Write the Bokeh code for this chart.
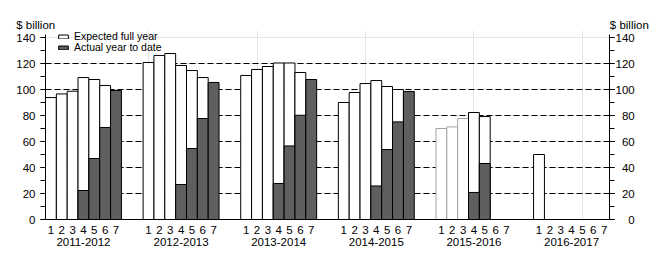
from bokeh.plotting import figure
from bokeh.layouts import column
from bokeh.models import (Range1d, LinearAxis, FixedTicker, SingleIntervalTicker,
                          Legend, LegendItem, ColumnDataSource, Grid)
from bokeh.core.properties import value
from bokeh.embed import file_html
from bokeh.resources import INLINE

years = ["2011-2012", "2012-2013", "2013-2014", "2014-2015", "2015-2016", "2016-2017"]
slot_labels = ["1", "2", "3", "4", "5", "6", "7"]
N = None
expected = {
    "2011-2012": [93.8, 96.6, 98.7, 109.2, 107.7, 103.1, N],
    "2012-2013": [120.8, 126.2, 127.7, 118.5, 114.6, 109.2, N],
    "2013-2014": [110.8, 115.4, 117.7, 120.4, 120.4, 113.1, N],
    "2014-2015": [90.0, 97.7, 104.6, 106.9, 102.3, 100.0, N],
    "2015-2016": [70.0, 71.2, 77.7, 82.3, 79.2, N, N],
    "2016-2017": [50.0, N, N, N, N, N, N],
}
actual = {
    "2011-2012": [N, N, N, 22.3, 46.9, 70.8, 99.2],
    "2012-2013": [N, N, N, 26.9, 54.6, 77.7, 105.4],
    "2013-2014": [N, N, N, 27.7, 56.6, 80.2, 107.7],
    "2014-2015": [N, N, N, 25.8, 53.8, 75.1, 98.5],
    "2015-2016": [N, N, N, 20.8, 43.1, N, N],
    "2016-2017": [N, N, N, N, N, N, N],
}
unit_label = "$ billion"
legend_labels = ["Expected full year", "Actual year to date"]

FONT = "Liberation Sans"
FS = "11.5px"
GROUP = 9  # 7 slots + 2 gap slots

W, H = 663, 255
HEAD = 30
LEFT, RIGHT = 45, 54
FRAME_W = W - LEFT - RIGHT
FRAME_H = 189

def xpos(g, i):
    return g * GROUP + i + 1

ex_x, ex_top, ex_line = [], [], []
ac_x, ac_top = [], []
for g, yr in enumerate(years):
    for i in range(7):
        e = expected[yr][i]
        if e is not None:
            ex_x.append(xpos(g, i))
            ex_top.append(e)
            ex_line.append("#a3a3a3" if (yr == "2015-2016" and i < 3) else "black")
        a = actual[yr][i]
        if a is not None:
            ac_x.append(xpos(g, i))
            ac_top.append(a)

n_slots = len(years) * GROUP - 2

# header strip with the unit labels
head = figure(frame_width=W, frame_height=HEAD, x_range=Range1d(0, W), y_range=Range1d(0, HEAD),
              output_backend="svg", toolbar_location=None, title=None,
              x_axis_location=None, y_axis_location=None, min_border=0,
              min_border_left=0, min_border_right=0, min_border_top=0, min_border_bottom=0)
head.frame_align = False
head.outline_line_color = None
head.background_fill_color = "white"
head.border_fill_color = "white"
head.xgrid.visible = False
head.ygrid.visible = False
for r in head.renderers:
    if isinstance(r, Grid):
        r.visible = False
head.text(x=[LEFT - 29.3, LEFT + FRAME_W + 0.3], y=[HEAD - 24, HEAD - 24],
          text=[unit_label, unit_label], text_font=value(FONT), text_font_size=FS,
          text_color="black", text_baseline="alphabetic", text_align="left")

p = figure(frame_width=FRAME_W, frame_height=FRAME_H,
           x_range=Range1d(0.5, n_slots + 0.5), y_range=Range1d(0, 145.4),
           output_backend="svg", toolbar_location=None, title=None,
           x_axis_location=None, y_axis_location=None,
           min_border_left=LEFT, min_border_right=RIGHT, min_border_top=0,
           min_border_bottom=H - HEAD - FRAME_H)
p.frame_align = False
p.outline_line_color = None
p.background_fill_color = "white"
p.border_fill_color = "white"

grid = Grid(dimension=1, ticker=FixedTicker(ticks=[20, 40, 60, 80, 100, 120]),
            grid_line_color="black", grid_line_dash="6 3", grid_line_width=1)
p.add_layout(grid)

src_e = ColumnDataSource(dict(x=ex_x, top=ex_top, lc=ex_line))
src_a = ColumnDataSource(dict(x=ac_x, top=ac_top))
r_e = p.vbar(x="x", top="top", bottom=0, width=1, source=src_e,
             fill_color="white", line_color="lc", line_width=1)
r_a = p.vbar(x="x", top="top", bottom=0, width=1, source=src_a,
             fill_color="#5f5f5f", line_color="black", line_width=1)

def yaxis(standoff, overrides=None):
    ax = LinearAxis(ticker=SingleIntervalTicker(interval=20, num_minor_ticks=2),
                    bounds=(0, 142.5), major_tick_out=5, major_tick_in=0,
                    minor_tick_out=5, minor_tick_in=0,
                    major_label_standoff=standoff,
                    major_label_text_font=FONT, major_label_text_font_size=FS,
                    major_label_text_color="black",
                    axis_line_color="black", major_tick_line_color="black",
                    minor_tick_line_color="black")
    if overrides:
        ax.major_label_overrides = overrides
    return ax

p.add_layout(yaxis(5), "left")
fig_sp = "\u2007"
right_over = {v: (fig_sp * (3 - len(str(v)))) + str(v) for v in range(0, 141, 20)}
p.add_layout(yaxis(1, right_over), "right")

num_ticks = [xpos(g, i) for g in range(len(years)) for i in range(7)]
num_over = {xpos(g, i): slot_labels[i] for g in range(len(years)) for i in range(7)}
ax_num = LinearAxis(ticker=FixedTicker(ticks=num_ticks), major_label_overrides=num_over,
                    major_tick_line_color=None, minor_tick_line_color=None,
                    axis_line_color="black", major_label_standoff=0,
                    major_label_text_font=FONT, major_label_text_font_size=FS,
                    major_label_text_color="black")
p.add_layout(ax_num, "below")

yr_ticks = [xpos(g, 3) for g in range(len(years))]
yr_over = {xpos(g, 3): years[g] for g in range(len(years))}
ax_yr = LinearAxis(ticker=FixedTicker(ticks=yr_ticks), major_label_overrides=yr_over,
                   major_tick_line_color=None, minor_tick_line_color=None,
                   axis_line_color=None, major_label_standoff=-5,
                   major_label_text_font=FONT, major_label_text_font_size=FS,
                   major_label_text_color="black")
p.add_layout(ax_yr, "below")

# two single-item legends so that the rows sit close together
for k, (lab, rend) in enumerate(zip(legend_labels, [r_e, r_a])):
    lg = Legend(items=[LegendItem(label=lab, renderers=[rend], index=0)],
                location=(12, FRAME_H - 12 - 11 * k), margin=0, padding=0, spacing=0,
                glyph_width=12, glyph_height=5, label_height=10, label_standoff=5,
                label_text_font=FONT, label_text_font_size="10.5px",
                label_text_color="black",
                border_line_color=None, background_fill_alpha=0)
    p.add_layout(lg, "center")

layout = column(head, p, spacing=0)
open("out.html", "w").write(file_html(layout, INLINE))
